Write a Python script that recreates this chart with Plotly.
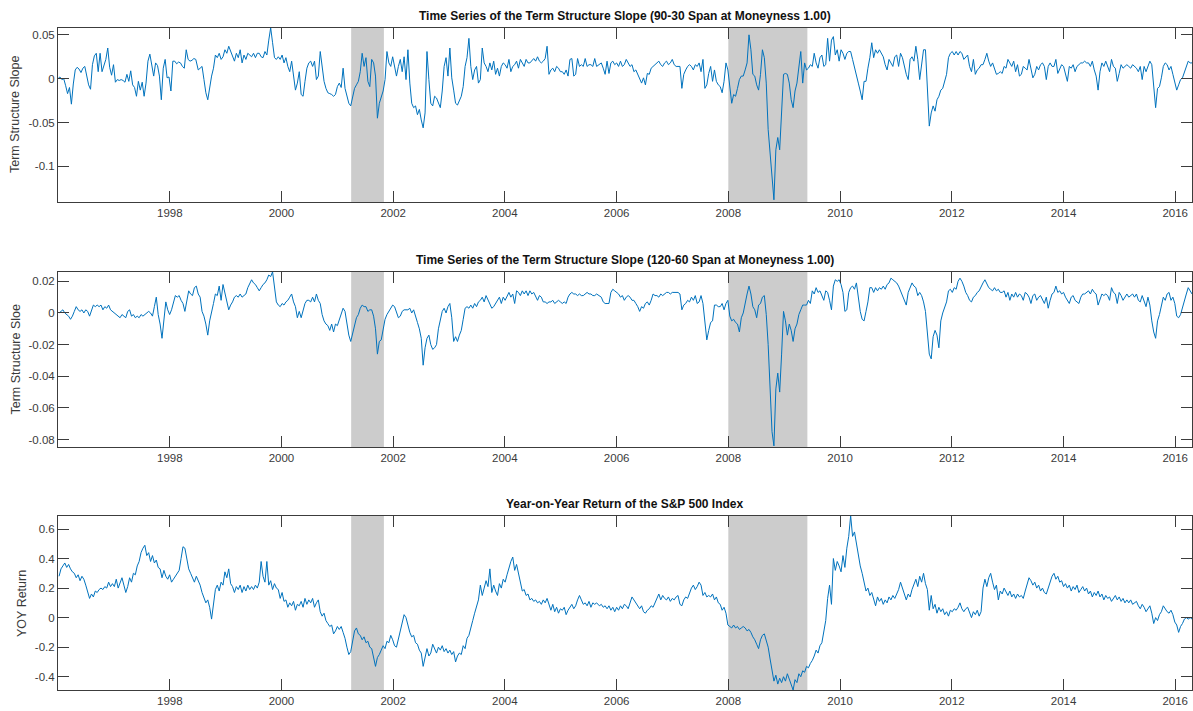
import numpy as np
import pandas as pd
import plotly.graph_objects as go

# ---------------------------------------------------------------------------
# Data: values sampled roughly every 12.5 days; each segment is spread evenly
# between its start and end date.
# ---------------------------------------------------------------------------

# Term structure slope, 90-30 day span at moneyness 1.00
slope_90_30_segments = [
    ("1996-01-01", "1998-06-20", [
        0.000, 0.002, -0.001, 0.000, -0.008, -0.017, -0.010, -0.029, -0.006, 0.010,
        0.013, 0.011, 0.007, 0.012, 0.014, 0.002, -0.007, -0.012, 0.016, 0.026,
        0.029, 0.008, 0.029, 0.008, 0.016, 0.022, 0.035, 0.013, 0.004, 0.016,
        -0.004, -0.001, -0.002, -0.001, -0.002, -0.004, 0.005, -0.003, 0.009, -0.007,
        -0.010, -0.020, -0.003, -0.013, -0.004, -0.020, -0.005, 0.020, 0.028, 0.015,
        0.003, 0.018, 0.015, 0.003, -0.024, 0.012, 0.022, 0.001, 0.002, -0.014,
        0.020, 0.020, 0.017, 0.019, 0.018, 0.014, 0.012, 0.033, 0.022, 0.020,
        0.021, 0.023, 0.022,
    ]),
    ("1998-07-06", "2005-08-23", [
        0.010, 0.012, 0.014, -0.001, -0.016, -0.024, -0.008, 0.003, 0.012, 0.027,
        0.024, 0.029, 0.022, 0.025, 0.033, 0.029, 0.037, 0.031, 0.025, 0.020,
        0.029, 0.024, 0.033, 0.018, 0.027, 0.022, 0.029, 0.027, 0.025, 0.029,
        0.024, 0.029, 0.029, 0.025, 0.024, 0.031, 0.027, 0.044, 0.058, 0.041,
        0.024, 0.022, 0.025, 0.022, 0.027, 0.018, 0.024, 0.014, 0.008, 0.020,
        0.003, -0.013, -0.005, 0.008, -0.018, -0.020, -0.003, 0.012, 0.018, 0.020,
        0.014, 0.020, -0.001, 0.003, 0.031, 0.014, -0.003, -0.011, -0.016, -0.017,
        -0.018, -0.020, -0.018, -0.009, -0.005, -0.010, 0.012, -0.011, -0.020, -0.028,
        -0.031, -0.020, -0.011, -0.007, -0.003, 0.008, 0.029, 0.014, 0.024, -0.003,
        -0.009, 0.022, 0.018, 0.003, -0.045, -0.028, -0.020, -0.014, -0.001, 0.031,
        0.018, 0.014, 0.025, 0.012, 0.003, 0.014, 0.022, 0.008, 0.025, -0.001,
        0.033, -0.005, -0.028, -0.033, -0.031, -0.041, -0.035, -0.047, -0.056, -0.039,
        0.031, -0.001, -0.028, -0.031, -0.020, -0.022, -0.028, -0.033, -0.014, 0.014,
        0.024, 0.003, 0.035, 0.001, -0.013, -0.028, -0.030, -0.024, -0.020, -0.009,
        0.014, 0.024, 0.046, 0.014, -0.001, 0.010, 0.014, -0.005, -0.001, 0.035,
        0.018, 0.014, 0.008, 0.018, 0.010, 0.020, 0.005, 0.012, 0.003, 0.014,
        0.018, 0.016, 0.012, 0.022, 0.008, 0.014, 0.016, 0.020, 0.012, 0.022,
        0.018, 0.014, 0.022, 0.018, 0.018, 0.020, 0.023, 0.020, 0.025, 0.020,
        0.018, 0.020, 0.023, 0.037, 0.005, 0.010, 0.012, 0.008, 0.014, 0.012,
        0.008, 0.008, 0.005, 0.010, 0.003, 0.022, 0.023, 0.003, 0.005, 0.023,
        0.014, 0.016, 0.014, 0.023, 0.014, 0.016, 0.016, 0.014, 0.023, 0.014,
    ]),
    ("2005-09-10", "2016-05-03", [
        0.016, 0.018, 0.012, 0.005, 0.020, 0.006, 0.018, 0.020, 0.016, 0.018,
        0.014, 0.020, 0.014, 0.016, 0.022, 0.018, 0.014, 0.016, 0.008, 0.010,
        0.005, -0.001, -0.005, 0.001, -0.007, 0.006, 0.005, 0.012, 0.014, 0.016,
        0.018, 0.020, 0.016, 0.014, 0.018, 0.020, 0.016, 0.018, 0.022, 0.016,
        0.014, 0.014, 0.014, -0.011, 0.005, 0.010, 0.014, 0.016, 0.014, 0.010,
        0.016, 0.014, 0.018, 0.008, 0.022, -0.011, -0.007, 0.006, 0.014, -0.003,
        0.010, -0.003, -0.007, -0.009, -0.016, -0.003, 0.018, 0.010, -0.011, -0.028,
        -0.018, -0.020, -0.011, -0.001, 0.003, 0.003, 0.010, 0.018, 0.050, 0.033,
        0.005, 0.003, -0.007, -0.013, 0.005, 0.033, 0.024, -0.005, -0.058, -0.088,
        -0.119, -0.138, -0.081, -0.067, -0.081, -0.035, 0.005, 0.006, 0.005, -0.005,
        -0.024, -0.033, -0.014, -0.005, 0.012, 0.031, -0.005, 0.018, 0.010, 0.012,
        0.016, 0.014, 0.029, 0.018, 0.012, 0.024, 0.027, 0.014, 0.016, 0.046,
        0.020, 0.044, 0.048, 0.027, 0.033, 0.020, 0.033, 0.029, 0.022, 0.029,
        0.031, 0.031, 0.022, 0.014, 0.005, -0.005, -0.014, -0.024, -0.003, -0.003,
        0.012, 0.024, 0.041, 0.024, 0.033, 0.029, 0.033, 0.029, 0.025, 0.016,
        0.010, 0.022, 0.018, 0.014, 0.025, 0.027, 0.014, 0.029, 0.024, 0.014,
        0.005, -0.001, 0.022, 0.025, 0.020, 0.037, 0.022, -0.001, 0.016, 0.033,
        0.033, -0.014, -0.054, -0.039, -0.031, -0.037, -0.024, -0.020, -0.013, -0.011,
        -0.003, 0.005, 0.024, 0.029, 0.031, 0.027, 0.031, 0.027, 0.031, 0.029,
        0.022, 0.024, 0.027, 0.014, 0.008, 0.022, 0.005, 0.010, 0.012, 0.016,
        0.016, 0.022, 0.029, 0.020, 0.014, 0.018, 0.010, 0.005, 0.006, 0.008,
        0.006, 0.014, 0.012, 0.022, 0.018, 0.014, 0.020, 0.008, 0.016, 0.003,
        0.005, 0.014, 0.012, 0.010, 0.022, 0.010, 0.001, 0.005, 0.014, 0.010,
        0.016, 0.018, 0.014, -0.001, 0.014, 0.018, 0.014, 0.014, 0.022, 0.006,
        0.012, 0.016, 0.014, 0.005, -0.003, 0.014, 0.012, 0.016, 0.008, 0.014,
        0.016, 0.018, 0.018, 0.020, 0.018, 0.018, 0.014, 0.020, 0.010, 0.003,
        -0.013, 0.008, 0.018, 0.014, 0.020, 0.014, 0.008, 0.022, 0.014, 0.012,
        -0.003, 0.006, 0.016, 0.012, 0.014, 0.016, 0.014, 0.012, 0.016, 0.014,
        0.012, 0.008, 0.014, -0.001, 0.014, 0.008, 0.014, 0.020, 0.016, -0.009,
        -0.033, -0.011, -0.009, 0.001, 0.014, 0.018, 0.016, 0.010, 0.014, 0.005,
        -0.003, -0.013, -0.007, -0.001, 0.001, 0.008, 0.014, 0.020, 0.018, 0.018,
        0.020,
    ]),
]

# Term structure slope, 120-60 day span at moneyness 1.00
slope_120_60_segments = [
    ("1996-01-08", "2005-08-23", [
        0.000, 0.001, 0.002, 0.000, -0.001, -0.002, -0.004, -0.002, 0.001, 0.004,
        0.002, 0.001, 0.002, 0.000, 0.002, 0.001, -0.002, 0.002, 0.005, 0.004,
        0.005, 0.004, 0.005, 0.002, 0.004, 0.003, 0.005, 0.002, 0.001, 0.000,
        -0.001, -0.002, -0.003, -0.001, -0.002, -0.003, 0.001, 0.002, -0.002, -0.001,
        -0.003, -0.002, -0.003, -0.001, -0.002, -0.001, 0.000, 0.001, 0.000, -0.002,
        0.004, 0.010, -0.001, -0.007, -0.016, -0.003, 0.007, 0.002, -0.001, 0.002,
        0.007, 0.011, 0.010, 0.011, 0.008, 0.006, 0.001, 0.008, 0.014, 0.012,
        0.011, 0.016, 0.017, 0.012, 0.010, 0.001, -0.002, -0.007, -0.014, -0.005,
        0.000, 0.006, 0.012, 0.011, 0.017, 0.008, 0.018, 0.012, 0.008, 0.002,
        0.005, 0.007, 0.010, 0.011, 0.010, 0.012, 0.010, 0.011, 0.012, 0.016,
        0.019, 0.021, 0.019, 0.018, 0.016, 0.014, 0.016, 0.018, 0.019, 0.021,
        0.024, 0.023, 0.026, 0.018, 0.007, 0.005, 0.004, 0.006, 0.005, 0.007,
        0.008, 0.010, 0.012, 0.007, 0.004, -0.003, 0.001, -0.003, 0.002, 0.006,
        0.008, 0.008, 0.007, 0.010, 0.007, 0.012, 0.008, 0.006, -0.001, -0.005,
        -0.007, -0.008, -0.011, -0.007, -0.012, -0.007, -0.008, -0.004, -0.001, 0.003,
        0.001, -0.008, -0.014, -0.018, -0.013, -0.006, -0.003, -0.001, 0.003, 0.005,
        0.004, 0.004, 0.001, 0.002, 0.002, -0.002, -0.010, -0.026, -0.018, -0.017,
        -0.010, -0.004, -0.001, 0.001, 0.003, 0.005, 0.004, 0.001, -0.003, -0.002,
        0.001, 0.002, 0.002, 0.002, 0.003, 0.000, 0.002, -0.003, -0.006, -0.010,
        -0.016, -0.033, -0.022, -0.016, -0.014, -0.020, -0.023, -0.022, -0.020, -0.010,
        -0.005, 0.001, 0.003, 0.000, 0.004, 0.006, -0.003, -0.018, -0.015, -0.018,
        -0.014, -0.011, -0.004, 0.003, 0.004, 0.003, 0.005, 0.003, 0.006, 0.004,
        0.007, 0.008, 0.010, 0.007, 0.011, 0.008, 0.005, 0.003, 0.004, 0.006,
        0.008, 0.010, 0.006, 0.010, 0.008, 0.011, 0.013, 0.010, 0.012, 0.006,
        0.014, 0.013, 0.011, 0.014, 0.012, 0.014, 0.011, 0.014, 0.012, 0.013,
        0.010, 0.008, 0.011, 0.010, 0.007, 0.007, 0.006, 0.007, 0.007, 0.008,
        0.006, 0.007, 0.008, 0.007, 0.006, 0.007, 0.006, 0.010, 0.012, 0.013,
        0.012, 0.012, 0.011, 0.012, 0.011, 0.011, 0.012, 0.013, 0.012, 0.012,
        0.011, 0.011, 0.012,
    ]),
    ("2005-09-10", "2016-05-03", [
        0.011, 0.010, 0.007, 0.006, 0.006, 0.006, 0.013, 0.015, 0.014, 0.013,
        0.012, 0.010, 0.011, 0.008, 0.010, 0.011, 0.010, 0.008, 0.008, 0.006,
        0.004, 0.001, 0.004, 0.003, 0.006, 0.007, 0.005, 0.008, 0.012, 0.011,
        0.011, 0.010, 0.012, 0.011, 0.012, 0.013, 0.013, 0.012, 0.013, 0.013,
        0.013, 0.013, 0.012, 0.002, 0.005, 0.006, 0.008, 0.007, 0.010, 0.008,
        0.011, 0.006, 0.007, 0.011, 0.006, -0.005, -0.017, -0.011, -0.006, -0.005,
        0.005, 0.005, 0.004, 0.004, 0.006, 0.002, 0.006, 0.008, -0.002, -0.005,
        -0.004, -0.006, -0.007, -0.012, -0.003, 0.000, 0.007, 0.012, 0.017, 0.012,
        0.004, 0.002, -0.003, 0.005, 0.006, 0.010, 0.011, -0.001, -0.020, -0.046,
        -0.075, -0.084, -0.048, -0.038, -0.050, -0.026, 0.001, -0.005, -0.014, -0.007,
        -0.011, -0.018, -0.010, -0.007, -0.001, 0.002, 0.005, 0.005, 0.005, 0.008,
        0.006, 0.014, 0.012, 0.016, 0.013, 0.014, 0.011, 0.008, 0.014, 0.013,
        0.008, 0.002, 0.017, 0.021, 0.020, 0.021, 0.018, 0.013, 0.001, 0.002,
        0.013, 0.016, 0.017, 0.015, 0.019, 0.008, 0.001, -0.004, -0.005, 0.001,
        0.007, 0.016, 0.016, 0.013, 0.016, 0.014, 0.016, 0.015, 0.017, 0.015,
        0.018, 0.019, 0.022, 0.021, 0.020, 0.019, 0.017, 0.014, 0.012, 0.008,
        0.005, 0.013, 0.016, 0.019, 0.017, 0.016, 0.011, 0.013, 0.011, 0.007,
        0.001, -0.012, -0.026, -0.029, -0.015, -0.011, -0.014, -0.022, -0.005, 0.000,
        0.003, 0.007, 0.014, 0.015, 0.013, 0.016, 0.015, 0.020, 0.022, 0.020,
        0.017, 0.013, 0.011, 0.008, 0.007, 0.010, 0.011, 0.013, 0.014, 0.017,
        0.019, 0.021, 0.018, 0.016, 0.015, 0.014, 0.016, 0.014, 0.015, 0.013,
        0.013, 0.014, 0.010, 0.013, 0.008, 0.012, 0.010, 0.013, 0.010, 0.012,
        0.011, 0.008, 0.013, 0.012, 0.010, 0.006, 0.011, 0.012, 0.008, 0.010,
        0.011, 0.008, 0.006, 0.010, 0.003, 0.008, 0.012, 0.013, 0.017, 0.013,
        0.014, 0.012, 0.013, 0.010, 0.008, 0.006, 0.010, 0.011, 0.008, 0.007,
        0.006, 0.010, 0.012, 0.012, 0.013, 0.014, 0.012, 0.015, 0.013, 0.012,
        0.005, 0.008, 0.012, 0.011, 0.012, 0.011, 0.008, 0.016, 0.013, 0.012,
        0.006, 0.013, 0.011, 0.008, 0.010, 0.012, 0.010, 0.011, 0.012, 0.010,
        0.012, 0.008, 0.007, 0.011, 0.007, 0.004, 0.010, 0.005, -0.005, -0.012,
        -0.016, -0.005, -0.001, 0.005, 0.010, 0.008, 0.012, 0.013, 0.008, 0.010,
        0.006, -0.002, -0.003, -0.001, 0.004, 0.007, 0.012, 0.016, 0.014, 0.012,
        0.014,
    ]),
]

# Year-on-year return of the S&P 500 index
sp500_yoy_segments = [
    ("1996-01-08", "2005-08-23", [
        0.28, 0.33, 0.35, 0.37, 0.34, 0.36, 0.33, 0.31, 0.30, 0.27,
        0.29, 0.25, 0.28, 0.26, 0.22, 0.18, 0.13, 0.16, 0.14, 0.18,
        0.17, 0.19, 0.20, 0.19, 0.21, 0.20, 0.24, 0.21, 0.23, 0.21,
        0.26, 0.20, 0.24, 0.27, 0.22, 0.17, 0.21, 0.27, 0.24, 0.30,
        0.29, 0.35, 0.38, 0.44, 0.47, 0.49, 0.42, 0.44, 0.38, 0.42,
        0.37, 0.39, 0.34, 0.33, 0.27, 0.32, 0.28, 0.26, 0.29, 0.24,
        0.26, 0.28, 0.30, 0.32, 0.40, 0.48, 0.47, 0.40, 0.33, 0.30,
        0.27, 0.24, 0.28, 0.25, 0.22, 0.17, 0.14, 0.10, 0.12, 0.07,
        -0.01, 0.08, 0.19, 0.22, 0.18, 0.24, 0.22, 0.31, 0.27, 0.33,
        0.23, 0.21, 0.17, 0.21, 0.19, 0.22, 0.17, 0.21, 0.18, 0.22,
        0.19, 0.21, 0.19, 0.22, 0.20, 0.24, 0.38, 0.28, 0.24, 0.38,
        0.22, 0.25, 0.19, 0.23, 0.20, 0.19, 0.13, 0.17, 0.11, 0.12,
        0.07, 0.10, 0.08, 0.11, 0.05, 0.09, 0.08, 0.11, 0.07, 0.13,
        0.09, 0.12, 0.10, 0.13, 0.07, 0.10, 0.12, 0.04, 0.01, 0.03,
        -0.02, -0.04, -0.06, -0.05, -0.11, -0.09, -0.06, -0.08, -0.06, -0.10,
        -0.14, -0.20, -0.25, -0.23, -0.15, -0.09, -0.07, -0.11, -0.12, -0.15,
        -0.13, -0.17, -0.16, -0.20, -0.21, -0.26, -0.33, -0.27, -0.25, -0.22,
        -0.19, -0.21, -0.16, -0.17, -0.12, -0.15, -0.19, -0.20, -0.15, -0.10,
        -0.05, 0.02, 0.00, -0.06, -0.10, -0.13, -0.12, -0.17, -0.18, -0.22,
        -0.24, -0.33, -0.26, -0.21, -0.26, -0.24, -0.18, -0.21, -0.24, -0.20,
        -0.22, -0.19, -0.23, -0.21, -0.24, -0.22, -0.25, -0.23, -0.30, -0.26,
        -0.24, -0.25, -0.19, -0.21, -0.14, -0.12, -0.06, -0.02, 0.03, 0.07,
        0.12, 0.22, 0.15, 0.20, 0.25, 0.21, 0.33, 0.17, 0.22, 0.18,
        0.15, 0.23, 0.20, 0.26, 0.24, 0.29, 0.34, 0.38, 0.41, 0.32,
        0.36, 0.30, 0.24, 0.18, 0.19, 0.15, 0.16, 0.12, 0.13, 0.11,
        0.12, 0.10, 0.11, 0.09, 0.12, 0.10, 0.13, 0.08, 0.05, 0.09,
        0.04, 0.07, 0.03, 0.06, 0.05, 0.07, 0.02, 0.05, 0.07, 0.09,
        0.06, 0.08, 0.12, 0.15, 0.12, 0.09, 0.10, 0.08, 0.11, 0.07,
        0.10, 0.09, 0.10,
    ]),
    ("2005-09-10", "2016-05-03", [
        0.08, 0.09, 0.07, 0.08, 0.06, 0.08, 0.05, 0.07, 0.04, 0.07,
        0.05, 0.08, 0.06, 0.09, 0.08, 0.06, 0.11, 0.14, 0.12, 0.10,
        0.08, 0.06, 0.08, 0.04, 0.03, 0.05, 0.06, 0.08, 0.07, 0.10,
        0.12, 0.16, 0.12, 0.15, 0.13, 0.12, 0.14, 0.11, 0.13, 0.12,
        0.14, 0.15, 0.09, 0.08, 0.12, 0.14, 0.13, 0.17, 0.20, 0.22,
        0.19, 0.21, 0.24, 0.22, 0.15, 0.17, 0.14, 0.15, 0.14, 0.16,
        0.12, 0.14, 0.10, 0.09, 0.05, 0.07, 0.03, -0.05, -0.06, -0.07,
        -0.05, -0.07, -0.06, -0.08, -0.07, -0.06, -0.07, -0.09, -0.08, -0.10,
        -0.13, -0.15, -0.18, -0.21, -0.15, -0.12, -0.11, -0.16, -0.20, -0.28,
        -0.37, -0.43, -0.39, -0.45, -0.41, -0.44, -0.40, -0.43, -0.38, -0.42,
        -0.45, -0.49, -0.42, -0.44, -0.38, -0.40, -0.36, -0.37, -0.33, -0.34,
        -0.31, -0.29, -0.26, -0.22, -0.24, -0.19, -0.17, -0.10, -0.02, 0.13,
        0.22, 0.09, 0.40, 0.32, 0.38, 0.35, 0.31, 0.42, 0.34, 0.47,
        0.55, 0.69, 0.55, 0.58, 0.50, 0.44, 0.35, 0.30, 0.24, 0.18,
        0.20, 0.15, 0.17, 0.12, 0.08, 0.14, 0.11, 0.13, 0.09, 0.12,
        0.10, 0.14, 0.12, 0.15, 0.13, 0.16, 0.19, 0.24, 0.20, 0.17,
        0.12, 0.16, 0.14, 0.19, 0.23, 0.26, 0.21, 0.28, 0.24, 0.30,
        0.23, 0.19, 0.05, 0.15, 0.06, 0.09, 0.03, 0.07, 0.04, 0.06,
        0.02, 0.04, 0.01, 0.05, 0.04, 0.06, 0.05, 0.07, 0.10, 0.06,
        0.04, 0.06, 0.07, 0.03, 0.00, 0.04, 0.02, 0.05, 0.01, 0.04,
        0.20, 0.26, 0.21, 0.27, 0.30, 0.24, 0.19, 0.22, 0.12, 0.18,
        0.16, 0.20, 0.17, 0.15, 0.18, 0.14, 0.16, 0.13, 0.16, 0.14,
        0.15, 0.13, 0.18, 0.23, 0.27, 0.25, 0.22, 0.24, 0.20, 0.22,
        0.18, 0.20, 0.17, 0.16, 0.20, 0.24, 0.28, 0.30, 0.26, 0.28,
        0.24, 0.25, 0.21, 0.23, 0.20, 0.22, 0.18, 0.21, 0.19, 0.22,
        0.17, 0.19, 0.21, 0.18, 0.20, 0.16, 0.18, 0.14, 0.17, 0.15,
        0.18, 0.14, 0.16, 0.12, 0.15, 0.13, 0.14, 0.11, 0.13, 0.15,
        0.12, 0.14, 0.11, 0.13, 0.10, 0.12, 0.10, 0.12, 0.09, 0.10,
        0.11, 0.08, 0.06, 0.09, 0.07, 0.04, 0.06, 0.08, 0.03, -0.04,
        0.00, -0.02, 0.02, 0.04, 0.08, 0.06, 0.04, 0.03, 0.05, 0.02,
        -0.03, -0.05, -0.10, -0.06, -0.04, -0.01, 0.00, -0.01, 0.00, -0.01,
        0.00,
    ]),
]

# NBER recession periods shaded in every panel
recessions = [("2001-04-01", "2001-11-01"), ("2008-01-01", "2009-06-01")]

panel_titles = [
    "Time Series of the Term Structure Slope (90-30 Span at Moneyness 1.00)",
    "Time Series of the Term Structure Slope (120-60 Span at Moneyness 1.00)",
    "Year-on-Year Return of the S&amp;P 500 Index",
]
panel_ylabels = ["Term Structure Slope", "Term Structure Sloe", "YOY Return"]

y_ticks = [
    [-0.1, -0.05, 0, 0.05],
    [-0.08, -0.06, -0.04, -0.02, 0, 0.02],
    [-0.4, -0.2, 0, 0.2, 0.4, 0.6],
]
y_ticklabels = [
    ["-0.1", "-0.05", "0", "0.05"],
    ["-0.08", "-0.06", "-0.04", "-0.02", "0", "0.02"],
    ["-0.4", "-0.2", "0", "0.2", "0.4", "0.6"],
]
y_limits = [(-0.1405, 0.0578), (-0.0847, 0.0259), (-0.49, 0.688)]

x_tick_years = list(range(1998, 2017, 2))
x_limits = ("1996-01-01", "2016-04-20")


def build_series(segments):
    dates, values = [], []
    for start, end, vals in segments:
        dates.extend(pd.date_range(start, end, periods=len(vals)))
        values.extend(vals)
    return dates, values


series = [build_series(s) for s in
          (slope_90_30_segments, slope_120_60_segments, sp500_yoy_segments)]

# ---------------------------------------------------------------------------
# Figure
# ---------------------------------------------------------------------------
W, H = 1193, 711
LINE_BLUE = "#0072BD"
AXIS_GREY = "#3c3c3c"
TEXT_GREY = "#3a3a3a"
FONT = "Liberation Sans, Arial, Helvetica, sans-serif"

x_dom = [58 / W, 1192 / W]
# top/bottom pixel rows of each panel's axes box
panel_px = [(28, 202), (272, 447), (516, 690)]
y_doms = [[1 - b / H, 1 - t / H] for t, b in panel_px]

fig = go.Figure()
for i, (dates, vals) in enumerate(series):
    n = "" if i == 0 else str(i + 1)
    fig.add_trace(go.Scatter(
        x=dates, y=vals, mode="lines",
        line=dict(color=LINE_BLUE, width=1),
        xaxis="x" + n, yaxis="y" + n, showlegend=False, hoverinfo="x+y",
    ))

    for r0, r1 in recessions:
        fig.add_shape(
            type="rect", xref="x" + n, yref="y" + n + " domain",
            x0=r0, x1=r1, y0=0, y1=1,
            fillcolor="#cccccc", line_width=0, layer="below",
        )

    common = dict(
        showline=True, linecolor=AXIS_GREY, linewidth=1, mirror="ticks",
        ticks="inside", ticklen=11, tickcolor=AXIS_GREY, tickwidth=1,
        showgrid=False, zeroline=False,
        tickfont=dict(family=FONT, size=11.5, color=TEXT_GREY),
    )
    fig.layout["xaxis" + n] = dict(
        common, domain=x_dom, anchor="y" + n, type="date",
        range=list(x_limits),
        tickvals=[f"{yr}-01-01" for yr in x_tick_years],
        ticktext=[str(yr) for yr in x_tick_years],
    )
    fig.layout["yaxis" + n] = dict(
        common, domain=y_doms[i], anchor="x" + n,
        range=list(y_limits[i]),
        tickvals=y_ticks[i], ticktext=y_ticklabels[i],
    )

    top_px, bot_px = panel_px[i]
    fig.add_annotation(
        text="<b>" + panel_titles[i] + "</b>",
        xref="paper", yref="paper",
        x=(x_dom[0] + x_dom[1]) / 2, y=1 - (top_px - 3) / H,
        xanchor="center", yanchor="bottom", showarrow=False,
        font=dict(family=FONT, size=12, color="#111111"),
    )
    label_x = 15 if i < 2 else 22
    fig.add_annotation(
        text=panel_ylabels[i], textangle=-90,
        xref="paper", yref="paper",
        x=label_x / W, y=1 - (top_px + bot_px) / 2 / H,
        xanchor="center", yanchor="middle", showarrow=False,
        font=dict(family=FONT, size=12.5, color=TEXT_GREY),
    )

fig.update_layout(
    width=W, height=H,
    margin=dict(l=0, r=0, t=0, b=0),
    paper_bgcolor="white", plot_bgcolor="white",
    font=dict(family=FONT),
)

fig.write_html("out.html", config={"displayModeBar": False})
